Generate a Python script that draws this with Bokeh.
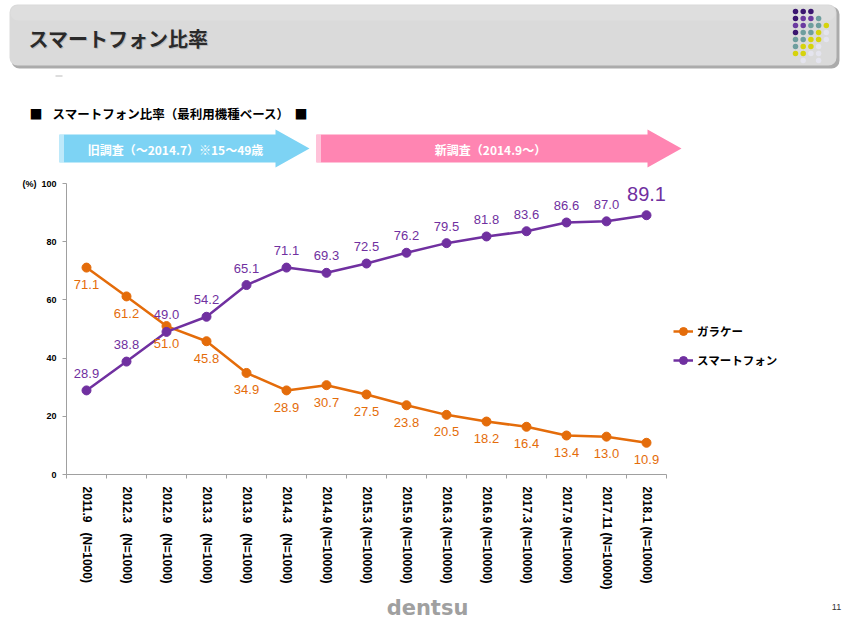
import math
from bokeh.plotting import figure
from bokeh.models import (ColumnDataSource, FixedTicker, BoxAnnotation, LinearAxis,
                          Legend, LegendItem, Range1d)
from bokeh.core.properties import value
from bokeh.embed import file_html
from bokeh.resources import INLINE

# ---------------- data ----------------
periods = ["2011.9", "2012.3", "2012.9", "2013.3", "2013.9", "2014.3", "2014.9",
           "2015.3", "2015.9", "2016.3", "2016.9", "2017.3", "2017.9", "2017.11", "2018.1"]
samples = ["(N=1000)"] * 6 + ["(N=10000)"] * 9
garake = [71.1, 61.2, 51.0, 45.8, 34.9, 28.9, 30.7, 27.5, 23.8, 20.5, 18.2, 16.4, 13.4, 13.0, 10.9]
smartphone = [28.9, 38.8, 49.0, 54.2, 65.1, 71.1, 69.3, 72.5, 76.2, 79.5, 81.8, 83.6, 86.6, 87.0, 89.1]
series_names = ["ガラケー", "スマートフォン"]
y_ticks = [0, 20, 40, 60, 80, 100]

ORANGE = "#E46C0A"
PURPLE = "#7030A0"
JP = "Noto Sans CJK JP"
LAT = "Liberation Sans"

W = 850
HEAD_H = 172                   # header strip: page y 0..172
FL, FR, FT, FB = 66, 666, 183, 474   # axis extent on page
FRAME_R = 800                  # frame extends right to hold the legend
CHART_BOTTOM = 592
FOOT_H = 622 - CHART_BOTTOM


def deco_fig(height, y0):
    f = figure(width=W, height=height, output_backend="svg", toolbar_location=None,
               x_range=Range1d(0, W), y_range=Range1d(y0 + height, y0),
               min_border=0, x_axis_location=None, y_axis_location=None)
    f.outline_line_color = None
    f.xgrid.visible = False
    f.ygrid.visible = False
    f.background_fill_color = "white"
    f.border_fill_color = "white"
    return f


def txt(f, x, y, text, font=JP, size="12px", color="black", bold=True,
        align="left"):
    f.text(x=[x], y=[y], text=[text], text_font=value(font), text_font_size=size,
           text_color=color, text_font_style="bold" if bold else "normal",
           text_align=align, text_baseline="middle")


def rbox(f, l, t, r, b, color, radius=0):
    f.add_layout(BoxAnnotation(left=l, right=r, top=t, bottom=b,
                               fill_color=color, fill_alpha=1, line_color=None,
                               border_radius=int(radius), editable=False,
                               level="underlay"))


# ---------------- header ----------------
hd = deco_fig(HEAD_H, 0)
rbox(hd, 11, 6, 839, 68, "#ABABAB", 8)
rbox(hd, 9, 4, 836, 65, "#DADADA", 8)
rbox(hd, 10, 5, 835, 20, "#DEDEDE", 8)
txt(hd, 29, 39, "スマートフォン比率", size="20px", color="#BBBBBB")
txt(hd, 28, 38, "スマートフォン比率", size="20px", color="#2A2A2A")

DP, MP, TE, YE, FA = "#3B1670", "#6B3AA0", "#6E9E9E", "#D6D30C", "#E4E4EE"
dot_rows = [
    [DP, DP, DP, None, None],
    [DP, MP, MP, TE, None],
    [MP, MP, TE, TE, YE],
    [DP, TE, TE, YE, FA],
    [TE, TE, YE, YE, FA],
    [TE, YE, YE, FA, None],
    [YE, YE, FA, FA, None],
    [None, FA, None, FA, None],
]
dx, dy, dc = [], [], []
for r, row in enumerate(dot_rows):
    for c, col in enumerate(row):
        if col:
            dx.append(795 + c * 7.7)
            dy.append(11 + r * 7)
            dc.append(col)
hd.scatter(dx, dy, size=5.5, fill_color=dc, line_color=None)
hd.quad(left=[55], right=[62], top=[75], bottom=[76], fill_color="#BBBBBB", line_color=None)

txt(hd, 29, 113, "■", size="13px")
txt(hd, 52, 113, "スマートフォン比率（最利用機種ベース）", size="12.5px")
txt(hd, 294, 113, "■", size="13px")

BLUE, PINK = "#7DD3F4", "#FF85B2"
hd.patch([59, 275, 275, 309, 275, 275, 59], [134, 134, 129, 148, 167, 162, 162],
         fill_color=BLUE, line_color=None)
hd.patch([316, 647, 647, 681, 647, 647, 316], [134, 134, 129, 148, 167, 162, 162],
         fill_color=PINK, line_color=None)
hd.quad(left=[60, 62, 317, 319], right=[61, 63, 318, 320], top=[134] * 4,
        bottom=[162] * 4, fill_color="white", line_color=None)
txt(hd, 175, 149, "旧調査（～2014.7）※15～49歳", color="white", align="center")
txt(hd, 490, 149, "新調査（2014.9～）", color="white", align="center")

# ---------------- chart ----------------
n = len(periods)
xs = list(range(n))
tick_labels = {}
for i, (a, b) in enumerate(zip(periods, samples)):
    sep = "\u00a0\u00a0\u00a0" if b == "(N=1000)" else " "
    tick_labels[i] = a + sep + b

x_end = -0.5 + n * (FRAME_R - FL) / (FR - FL)
p = figure(width=W, height=CHART_BOTTOM - HEAD_H, output_backend="svg",
           toolbar_location=None,
           x_range=Range1d(-0.5, x_end), y_range=Range1d(0, 100),
           min_border_left=FL, min_border_right=W - FRAME_R,
           min_border_top=FT - HEAD_H, min_border_bottom=CHART_BOTTOM - FB)
p.outline_line_color = None
p.xgrid.visible = False
p.ygrid.visible = False
p.background_fill_color = "white"
p.border_fill_color = "white"

xa = p.xaxis[0]
xa.bounds = (-0.5, n - 0.5)
xa.ticker = FixedTicker(ticks=xs, minor_ticks=[i - 0.5 for i in range(n + 1)])
xa.major_label_overrides = tick_labels
xa.major_label_orientation = -math.pi / 2
xa.major_tick_out = 0
xa.major_tick_in = 0
xa.minor_tick_out = 4
xa.minor_tick_in = 0
xa.minor_tick_line_color = "#A0A0A0"
xa.axis_line_color = "#A0A0A0"
xa.major_label_text_font = LAT
xa.major_label_text_font_style = "bold"
xa.major_label_text_font_size = "12px"
xa.major_label_text_color = "black"
xa.major_label_standoff = 8

ya = p.yaxis[0]
ya.ticker = FixedTicker(ticks=y_ticks)
ya.major_tick_out = 4
ya.major_tick_in = 0
ya.minor_tick_line_color = None
ya.axis_line_color = "#A0A0A0"
ya.major_tick_line_color = "#A0A0A0"
ya.major_label_text_font = LAT
ya.major_label_text_font_style = "bold"
ya.major_label_text_font_size = "9px"
ya.major_label_text_color = "black"
ya.major_label_standoff = 6

unit_axis = LinearAxis(ticker=FixedTicker(ticks=[100]), major_label_overrides={100: "(%)"},
                       axis_line_color=None, major_tick_line_color=None,
                       minor_tick_line_color=None, major_label_standoff=-4,
                       major_label_text_font=LAT, major_label_text_font_style="bold",
                       major_label_text_font_size="9px", major_label_text_color="black")
p.add_layout(unit_axis, "left")

src = ColumnDataSource(dict(x=xs, g=garake, s=smartphone,
                            gl=[f"{v:.1f}" for v in garake],
                            sl=[f"{v:.1f}" for v in smartphone],
                            ssize=["13px"] * (n - 1) + ["20px"],
                            soff=[-17] * (n - 1) + [-21]))
l1 = p.line("x", "g", source=src, line_color=ORANGE, line_width=2.5)
c1 = p.scatter("x", "g", source=src, size=9, fill_color=ORANGE, line_color=ORANGE)
l2 = p.line("x", "s", source=src, line_color=PURPLE, line_width=2.5)
c2 = p.scatter("x", "s", source=src, size=9, fill_color=PURPLE, line_color=PURPLE)

p.text("x", "g", text="gl", source=src, y_offset=17, text_align="center",
       text_baseline="middle", text_color=ORANGE, text_font=value(LAT),
       text_font_size="13px")
p.text("x", "s", text="sl", source=src, y_offset="soff", text_align="center",
       text_baseline="middle", text_color=PURPLE, text_font=value(LAT),
       text_font_size="ssize")

legend = Legend(items=[LegendItem(label=series_names[0], renderers=[l1, c1]),
                       LegendItem(label=series_names[1], renderers=[l2, c2])],
                location=(FR - FL + 7, FB - 370), padding=0, margin=0, spacing=9,
                glyph_width=20, glyph_height=20, label_height=20, label_standoff=4,
                border_line_color=None, background_fill_alpha=0,
                label_text_font=JP, label_text_font_style="bold",
                label_text_font_size="11.5px", label_text_color="black")
p.add_layout(legend, "center")

# ---------------- footer ----------------
ft = deco_fig(FOOT_H, CHART_BOTTOM)
txt(ft, 427, 607, "dentsu", font="DejaVu Sans", size="21px", color="#A0A0A0", align="center")
txt(ft, 836, 606, "11", font=LAT, size="9px", color="#333333", bold=False, align="center")

open("out.html", "w").write(file_html([hd, p, ft], INLINE))
